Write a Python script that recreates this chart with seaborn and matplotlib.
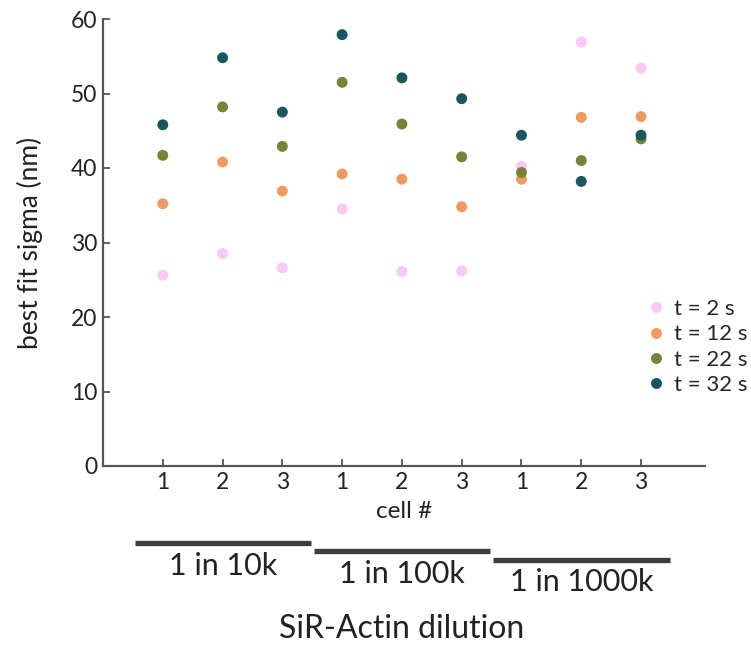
import matplotlib
matplotlib.use("Agg")
import matplotlib.pyplot as plt
import matplotlib.transforms as mtransforms
import seaborn as sns
import pandas as pd
import numpy as np

cells = [1, 2, 3, 1, 2, 3, 1, 2, 3]
dilutions = ["1 in 10k", "1 in 100k", "1 in 1000k"]
series_names = ["t = 2 s", "t = 12 s", "t = 22 s", "t = 32 s"]
t2 = [25.6, 28.5, 26.6, 34.5, 26.1, 26.2, 40.2, 56.9, 53.4]
t12 = [35.2, 40.8, 36.9, 39.2, 38.5, 34.8, 38.5, 46.8, 46.9]
t22 = [41.7, 48.2, 42.9, 51.5, 45.9, 41.5, 39.4, 41.0, 43.9]
t32 = [45.8, 54.8, 47.5, 57.9, 52.1, 49.3, 44.4, 38.2, 44.4]
colors = ["#f8c8f6", "#f09a60", "#7a8236", "#185663"]

positions = list(range(1, len(cells) + 1))
rows = []
for name, vals in zip(series_names, [t2, t12, t22, t32]):
    for p, v in zip(positions, vals):
        rows.append({"pos": p, "sigma": v, "series": name})
df = pd.DataFrame(rows)

sns.set_style("ticks")
plt.rcParams["font.family"] = ["Lato", "DejaVu Sans"]

fig = plt.figure(figsize=(7.51, 6.48), dpi=100)
ax = fig.add_axes([103 / 751, 1 - 466 / 648, (705 - 103) / 751, (466 - 19) / 648])

sns.scatterplot(data=df, x="pos", y="sigma", hue="series", hue_order=series_names,
                palette=colors, s=62, linewidth=0, ax=ax, zorder=3)

ax.set_xlim(0.0, 10.07)
ax.set_ylim(0, 60)
ax.set_yticks(range(0, 61, 10))
ax.set_xticks(positions)
ax.set_xticklabels([str(c) for c in cells])
for s in ["top", "right"]:
    ax.spines[s].set_visible(False)
for s in ["left", "bottom"]:
    ax.spines[s].set_color("#555555")
    ax.spines[s].set_linewidth(1.6)
ax.tick_params(direction="in", length=5, width=1.3, color="#555555",
               labelsize=16.5, labelcolor="#222222", pad=4)
ax.set_xlabel("cell #", fontsize=17.5, color="#222222", labelpad=6)
ax.set_ylabel("best fit sigma (nm)", fontsize=19, color="#222222", labelpad=20)

leg = ax.legend(loc="upper left", bbox_to_anchor=(647 / 751, 1 - 299 / 648),
                bbox_transform=fig.transFigure, frameon=False, fontsize=16,
                handlelength=0.8, handletextpad=0.4, labelspacing=0.24,
                borderpad=0, borderaxespad=0, markerscale=1.0)

# dilution group bars and labels
trans = mtransforms.blended_transform_factory(ax.transData, fig.transFigure)
bar_y = [1 - 542.5 / 648, 1 - 551 / 648, 1 - 560 / 648]
txt_y = [1 - 575 / 648, 1 - 583 / 648, 1 - 591 / 648]
for i, lab in enumerate(dilutions):
    x0 = 0.53 + 3 * i
    x1 = 3.48 + 3 * i
    ax.plot([x0, x1], [bar_y[i], bar_y[i]], transform=trans, clip_on=False,
            color="#3c3c3c", lw=3.8, solid_capstyle="butt")
    ax.text((x0 + x1) / 2, txt_y[i], lab, transform=trans, ha="center", va="baseline",
            fontsize=22, color="#222222")
ax.text(5, 1 - 638 / 648, "SiR-Actin dilution", transform=trans, ha="center",
        va="baseline", fontsize=23, color="#222222")

fig.savefig("out.png", dpi=100)
